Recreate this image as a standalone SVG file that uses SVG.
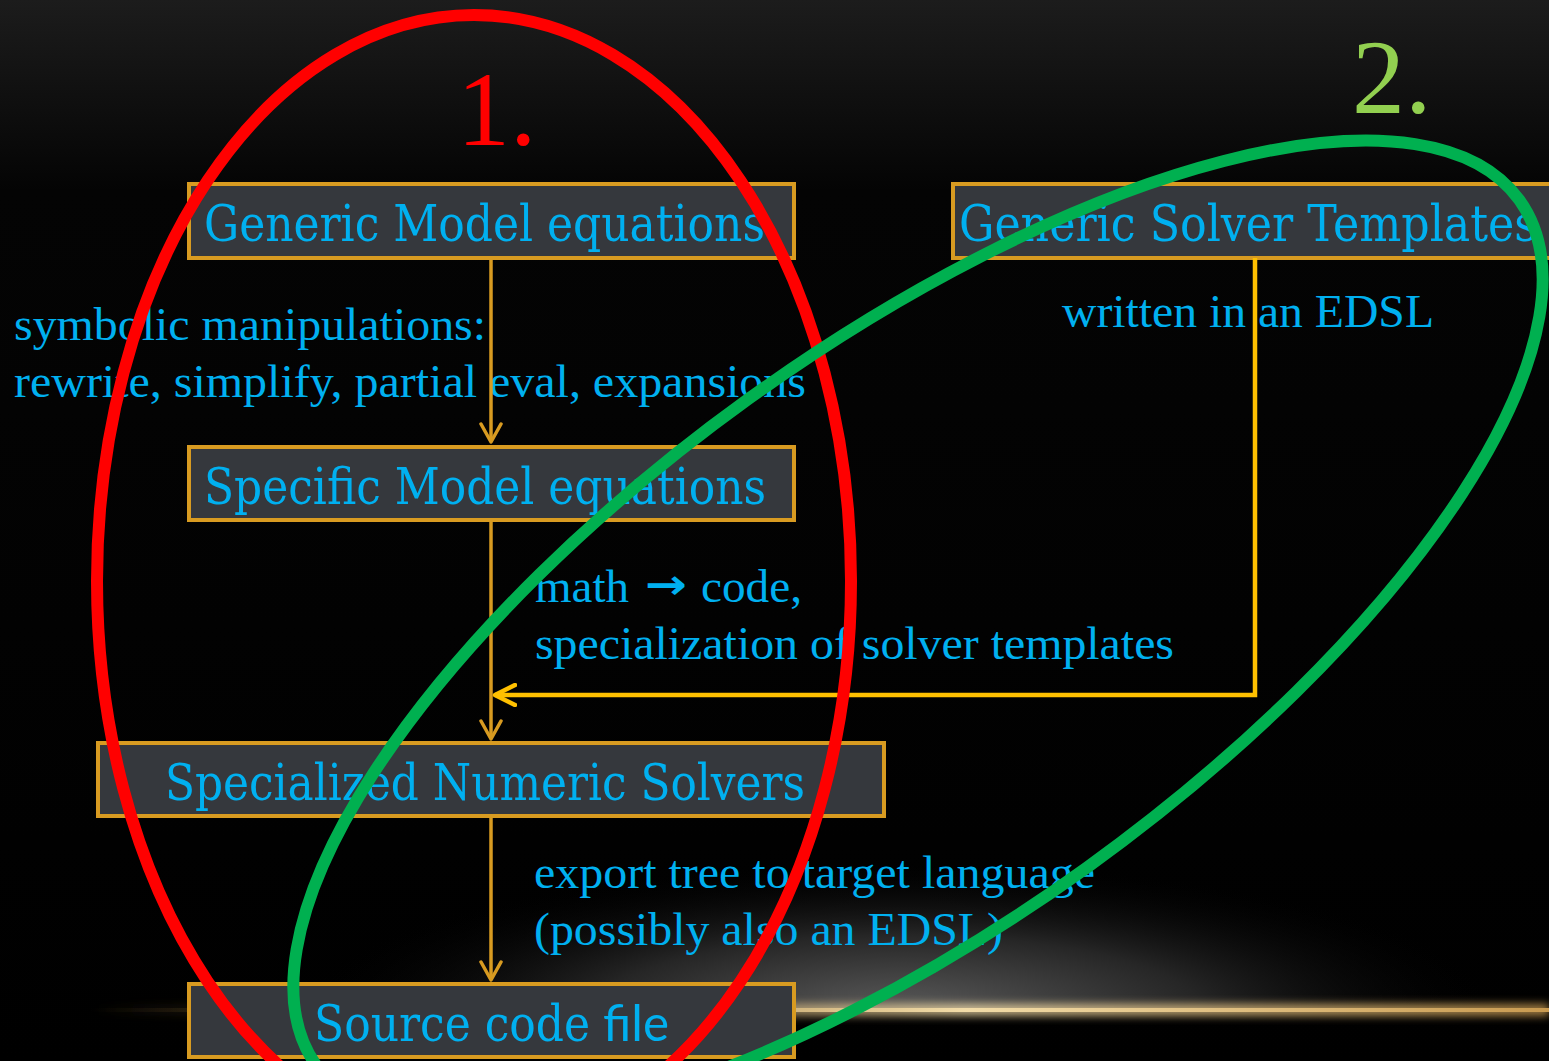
<svg xmlns="http://www.w3.org/2000/svg" width="1549" height="1061" viewBox="0 0 1549 1061">
<defs>
<linearGradient id="bg" x1="0" y1="0" x2="0" y2="1061" gradientUnits="userSpaceOnUse">
<stop offset="0" stop-color="#1c1c1c"/>
<stop offset="0.18" stop-color="#040404"/>
<stop offset="1" stop-color="#000000"/>
</linearGradient>
<radialGradient id="glow" cx="900" cy="1010" r="600" gradientUnits="userSpaceOnUse" gradientTransform="translate(900 1010) scale(1 0.25) translate(-900 -1010)">
<stop offset="0" stop-color="#5a5a5a"/>
<stop offset="0.5" stop-color="#262626"/>
<stop offset="1" stop-color="#000000" stop-opacity="0"/>
</radialGradient>
<linearGradient id="line" x1="90" y1="0" x2="1549" y2="0" gradientUnits="userSpaceOnUse">
<stop offset="0" stop-color="#8a6a30" stop-opacity="0"/>
<stop offset="0.3" stop-color="#b08a48" stop-opacity="0.7"/>
<stop offset="0.6" stop-color="#f2dca8"/>
<stop offset="1" stop-color="#c89a50"/>
</linearGradient>
<filter id="blur" x="-5%" y="-200%" width="110%" height="500%"><feGaussianBlur stdDeviation="4"/></filter>
<clipPath id="upper"><rect x="0" y="0" width="1549" height="1012"/></clipPath>
<marker id="ah" viewBox="-20 -12 24 24" markerWidth="24" markerHeight="24" refX="0" refY="0" orient="auto" markerUnits="userSpaceOnUse">
<path d="M-18,-10 L0,0 L-18,10" fill="none" stroke="#d89b21" stroke-width="3.5" stroke-linecap="round" stroke-linejoin="round"/>
</marker>
<marker id="ahy" viewBox="-22 -12 26 24" markerWidth="26" markerHeight="24" refX="0" refY="0" orient="auto" markerUnits="userSpaceOnUse">
<path d="M-20,-10 L0,0 L-20,10" fill="none" stroke="#ffc000" stroke-width="4.5" stroke-linecap="round" stroke-linejoin="round"/>
</marker>
<style>
.box{fill:#35383d;stroke:#d89b21;stroke-width:4}
.bt{font-family:"DejaVu Serif Condensed","DejaVu Serif",serif;font-size:50px;fill:#00b0f0}
.lb{font-family:"Liberation Serif","Times New Roman",serif;font-size:46px;fill:#00b0f0}
.num{font-family:"Liberation Serif","Times New Roman",serif;font-size:106px}
.c{fill:none;stroke:#d89b21;stroke-width:3.5}
.cy{fill:none;stroke:#ffc000;stroke-width:4.5}
</style>
</defs>
<rect x="0" y="0" width="1549" height="1061" fill="url(#bg)"/>
<rect x="0" y="800" width="1549" height="261" fill="url(#glow)" clip-path="url(#upper)"/>
<rect x="90" y="1004" width="1459" height="12" fill="url(#line)" filter="url(#blur)" opacity="0.8"/>
<rect x="90" y="1008" width="1459" height="4" fill="url(#line)"/>

<text class="num" x="457" y="145" fill="#ff0000">1.</text>
<text class="num" x="1352" y="113" fill="#92d050">2.</text>

<g id="n-generic-model">
<rect class="box" x="189" y="184" width="605" height="74"/>
<text class="bt" x="204" y="241" textLength="561" lengthAdjust="spacingAndGlyphs">Generic Model equations</text>
</g>
<g id="n-generic-solver">
<rect class="box" x="953" y="184" width="610" height="74"/>
<text class="bt" x="959" y="241" textLength="578" lengthAdjust="spacingAndGlyphs">Generic Solver Templates</text>
</g>
<g id="n-specific-model">
<rect class="box" x="189" y="447" width="605" height="73"/>
<text class="bt" x="204" y="504" textLength="562" lengthAdjust="spacingAndGlyphs">Specific Model equations</text>
</g>
<g id="n-specialized">
<rect class="box" x="98" y="743" width="786" height="73"/>
<text class="bt" x="165" y="800" textLength="640" lengthAdjust="spacingAndGlyphs">Specialized Numeric Solvers</text>
</g>
<g id="n-source">
<rect class="box" x="189" y="984" width="605" height="73"/>
<text class="bt" x="314" y="1041" textLength="276" lengthAdjust="spacingAndGlyphs">Source code</text>
<text x="603" y="1041" font-family="Lato,'Open Sans',sans-serif" font-size="50" fill="#00b0f0" textLength="66" lengthAdjust="spacingAndGlyphs">file</text>
</g>

<g id="labels">
<text class="lb" x="14" y="340" textLength="472" lengthAdjust="spacingAndGlyphs">symbolic manipulations:</text>
<text class="lb" x="14" y="397" textLength="792" lengthAdjust="spacingAndGlyphs">rewrite, simplify, partial eval, expansions</text>
<text class="lb" x="1062" y="327" textLength="372" lengthAdjust="spacingAndGlyphs">written in an EDSL</text>
<text class="lb" x="535" y="602" textLength="94" lengthAdjust="spacingAndGlyphs">math</text>
<text x="645" y="599" font-family="'DejaVu Sans',sans-serif" font-weight="bold" font-size="42" fill="#00b0f0" textLength="42" lengthAdjust="spacingAndGlyphs">→</text>
<text class="lb" x="701" y="602" textLength="101" lengthAdjust="spacingAndGlyphs">code,</text>
<text class="lb" x="535" y="659" textLength="639" lengthAdjust="spacingAndGlyphs">specialization of solver templates</text>
<text class="lb" x="534" y="888" textLength="561" lengthAdjust="spacingAndGlyphs">export tree to target language</text>
<text class="lb" x="534" y="945" textLength="469" lengthAdjust="spacingAndGlyphs">(possibly also an EDSL)</text>
</g>

<g id="connectors">
<line class="c" x1="491" y1="258" x2="491" y2="442" marker-end="url(#ah)"/>
<line class="c" x1="491" y1="520" x2="491" y2="739" marker-end="url(#ah)"/>
<line class="c" x1="491" y1="816" x2="491" y2="980" marker-end="url(#ah)"/>
<polyline class="cy" points="1255,258 1255,695 495,695" marker-end="url(#ahy)"/>
</g>

<g id="highlights">
<ellipse cx="474" cy="581" rx="377" ry="566" fill="none" stroke="#ff0000" stroke-width="12"/>
<ellipse cx="0" cy="0" rx="741" ry="289" fill="none" stroke="#00b050" stroke-width="12" transform="translate(918 633) rotate(-35.75)"/>
</g>
</svg>
